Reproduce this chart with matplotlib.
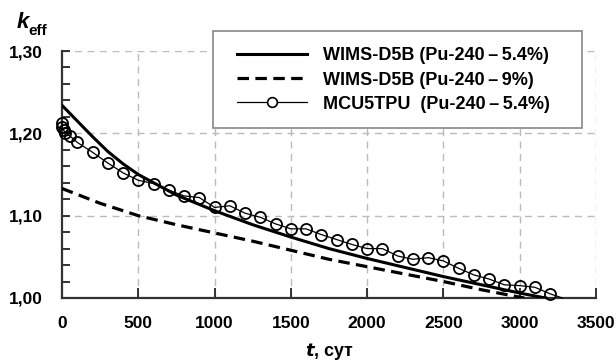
import numpy as np
import matplotlib
matplotlib.use('Agg')
import matplotlib.pyplot as plt
from matplotlib.patches import Rectangle
from matplotlib.ticker import FixedLocator, FuncFormatter

FONT = ['Liberation Sans Narrow', 'Liberation Sans', 'DejaVu Sans']
plt.rcParams['font.family'] = FONT
plt.rcParams['font.weight'] = 'bold'

# WIMS-D5B, Pu-240 5.4 %
t_wims54 = [0, 100, 200, 300, 400, 500, 750, 1000, 1250, 1500, 1750, 2000,
            2250, 2500, 2750, 3000, 3170]
k_wims54 = [1.234, 1.215, 1.196, 1.178, 1.163, 1.150, 1.125, 1.106, 1.089,
            1.074, 1.060, 1.048, 1.037, 1.026, 1.016, 1.006, 1.000]

# WIMS-D5B, Pu-240 9 %
t_wims9 = [0, 250, 500, 750, 1000, 1250, 1500, 1750, 2000, 2250, 2500,
           2750, 3000, 3030]
k_wims9 = [1.133, 1.115, 1.100, 1.089, 1.079, 1.069, 1.058, 1.047, 1.038,
           1.029, 1.020, 1.010, 1.001, 1.000]

# MCU5TPU, Pu-240 5.4 %
t_mcu = [0, 0, 10, 20, 50, 100, 200, 300, 400, 500, 600, 700, 800, 900,
         1000, 1100, 1200, 1300, 1400, 1500, 1600, 1700, 1800, 1900, 2000,
         2100, 2200, 2300, 2400, 2500, 2600, 2700, 2800, 2900, 3000, 3100,
         3200]
k_mcu = [1.212, 1.208, 1.204, 1.201, 1.197, 1.189, 1.177, 1.164, 1.152,
         1.143, 1.139, 1.131, 1.124, 1.122, 1.110, 1.112, 1.103, 1.098,
         1.090, 1.084, 1.084, 1.077, 1.071, 1.065, 1.060, 1.060, 1.051,
         1.047, 1.049, 1.045, 1.036, 1.028, 1.023, 1.016, 1.015, 1.013,
         1.005]
# line continues to the axis without a marker
t_mcu_end = 3280
k_mcu_end = 1.000

labels = ['WIMS-D5B (Pu-240\u2009\u2013\u20095.4%)',
          'WIMS-D5B (Pu-240\u2009\u2013\u20099%)',
          'MCU5TPU  (Pu-240\u2009\u2013\u20095.4%)']

W, H = 616, 361
fig = plt.figure(figsize=(W / 100, H / 100), dpi=100)
ax = fig.add_axes([62 / W, 1 - 298 / H, (596 - 62) / W, (298 - 51) / H])

l1, = ax.plot(t_wims54, k_wims54, color='black', lw=2.2, zorder=4)
l2, = ax.plot(t_wims9, k_wims9, color='black', lw=2.3, ls=(0, (3.6, 2.0)),
              zorder=4)
ax.plot(t_mcu + [t_mcu_end], k_mcu + [k_mcu_end], color='black', lw=0.9,
        zorder=5, clip_on=False)
ax.plot(t_mcu, k_mcu, ls='none', marker='o', ms=8, mfc='none',
        mec='black', mew=1.3, zorder=5, clip_on=False)

ax.set_xlim(0, 3500)
ax.set_ylim(1.0, 1.3)
ax.xaxis.set_major_locator(FixedLocator(np.arange(0, 3501, 500)))
ax.yaxis.set_major_locator(FixedLocator([1.0, 1.1, 1.2, 1.3]))
ax.yaxis.set_minor_locator(FixedLocator(np.arange(1.0, 1.301, 0.02)))
ax.yaxis.set_major_formatter(FuncFormatter(lambda v, p: f'{v:.2f}'.replace('.', ',')))

for s in ['top', 'right']:
    ax.spines[s].set_visible(False)
for s in ['left', 'bottom']:
    ax.spines[s].set_color('#333333')
    ax.spines[s].set_linewidth(1.6)

ax.tick_params(axis='both', which='both', direction='in', color='#333333',
               width=1.4, labelsize=12.5)
ax.tick_params(axis='x', which='major', length=7, pad=13)
ax.tick_params(axis='y', which='major', length=6, pad=14)
ax.tick_params(axis='y', which='minor', length=6)
for lab in ax.get_xticklabels() + ax.get_yticklabels():
    lab.set_fontweight('bold')

ax.grid(True, which='major', color='#bbbbbb', ls=(0, (5, 4)), lw=1.0)
ax.set_axisbelow(True)
# no gridline on the spines
ax.xaxis.get_gridlines()[0].set_visible(False)
ax.yaxis.get_gridlines()[0].set_visible(False)

ax.set_xlabel('$t$, сут', fontsize=13, fontweight='bold', labelpad=7)
fig.text(17 / W, 1 - 28 / H, 'k', fontsize=16, fontweight='bold',
         style='italic', family=FONT)
fig.text(28 / W, 1 - 35 / H, 'eff', fontsize=11, fontweight='bold',
         family=FONT)

fig.patches.append(Rectangle((213 / W, 1 - 128 / H), (582 - 213) / W, 97 / H,
                             transform=fig.transFigure, facecolor='white',
                             edgecolor='#888888', lw=1.2, zorder=3))
mcu_handle = plt.Line2D([], [], color='black', lw=0.9, marker='o', ms=7,
                        mfc='white', mec='black', mew=1.2)
leg = fig.legend([l1, l2, mcu_handle], labels, loc='center left',
                 bbox_to_anchor=(237 / W, 1 - 80 / H), frameon=False,
                 handlelength=3.9, handletextpad=0.85,
                 labelspacing=0.4, borderpad=0, borderaxespad=0,
                 prop={'weight': 'bold', 'size': 13})
leg.set_zorder(6)

fig.savefig('out.png', dpi=100)
